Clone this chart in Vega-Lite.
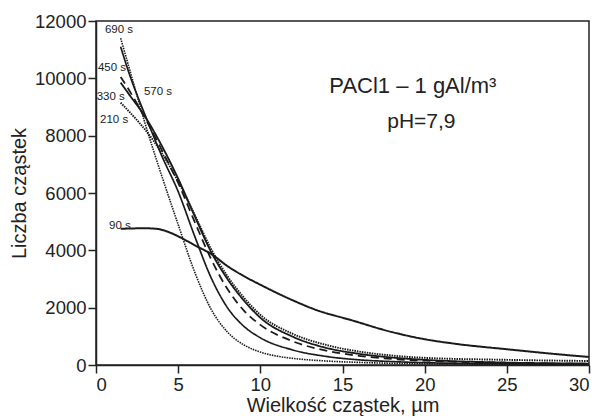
{
  "$schema": "https://vega.github.io/schema/vega-lite/v6.json",
  "autosize": "none",
  "width": 493,
  "height": 344,
  "padding": {"left": 96, "top": 21, "right": 22, "bottom": 53},
  "background": "white",
  "config": {
    "font": "Liberation Sans",
    "view": {"stroke": "#222", "strokeWidth": 1.5},
    "axis": {"grid": false, "domainColor": "#222", "domainWidth": 1.5, "tickColor": "#222", "tickWidth": 1.5, "tickSize": 8, "labelFontSize": 18.5, "labelColor": "#222", "titleFontSize": 20, "titleFontWeight": "normal", "titleColor": "#222", "labelFont": "Liberation Sans", "titleFont": "Liberation Sans"}
  },
  "datasets": {
    "curves": [
      {"series": "690 s", "x": 1.5, "y": 11400}, {"series": "690 s", "x": 2, "y": 10400}, {"series": "690 s", "x": 3, "y": 8400}, {"series": "690 s", "x": 4, "y": 6600}, {"series": "690 s", "x": 5, "y": 4900}, {"series": "690 s", "x": 6, "y": 3250}, {"series": "690 s", "x": 7, "y": 1950}, {"series": "690 s", "x": 8, "y": 1150}, {"series": "690 s", "x": 9, "y": 700}, {"series": "690 s", "x": 10, "y": 450}, {"series": "690 s", "x": 11, "y": 310}, {"series": "690 s", "x": 12, "y": 230}, {"series": "690 s", "x": 14, "y": 140}, {"series": "690 s", "x": 16, "y": 90}, {"series": "690 s", "x": 18, "y": 60}, {"series": "690 s", "x": 20, "y": 45}, {"series": "690 s", "x": 25, "y": 25}, {"series": "690 s", "x": 30, "y": 15},
      {"series": "570 s", "x": 1.5, "y": 11100}, {"series": "570 s", "x": 2, "y": 10200}, {"series": "570 s", "x": 3, "y": 8700}, {"series": "570 s", "x": 4, "y": 7300}, {"series": "570 s", "x": 5, "y": 6050}, {"series": "570 s", "x": 6, "y": 4500}, {"series": "570 s", "x": 7, "y": 3050}, {"series": "570 s", "x": 8, "y": 2000}, {"series": "570 s", "x": 9, "y": 1350}, {"series": "570 s", "x": 10, "y": 950}, {"series": "570 s", "x": 12, "y": 520}, {"series": "570 s", "x": 14, "y": 300}, {"series": "570 s", "x": 16, "y": 180}, {"series": "570 s", "x": 18, "y": 120}, {"series": "570 s", "x": 20, "y": 80}, {"series": "570 s", "x": 25, "y": 40}, {"series": "570 s", "x": 30, "y": 20},
      {"series": "450 s", "x": 1.5, "y": 10050}, {"series": "450 s", "x": 2, "y": 9600}, {"series": "450 s", "x": 3, "y": 8600}, {"series": "450 s", "x": 4, "y": 7500}, {"series": "450 s", "x": 5, "y": 6350}, {"series": "450 s", "x": 6, "y": 5000}, {"series": "450 s", "x": 7, "y": 3700}, {"series": "450 s", "x": 8, "y": 2650}, {"series": "450 s", "x": 9, "y": 1900}, {"series": "450 s", "x": 10, "y": 1400}, {"series": "450 s", "x": 12, "y": 820}, {"series": "450 s", "x": 14, "y": 500}, {"series": "450 s", "x": 16, "y": 320}, {"series": "450 s", "x": 18, "y": 210}, {"series": "450 s", "x": 20, "y": 150}, {"series": "450 s", "x": 25, "y": 75}, {"series": "450 s", "x": 30, "y": 40},
      {"series": "330 s", "x": 1.5, "y": 9850}, {"series": "330 s", "x": 2, "y": 9450}, {"series": "330 s", "x": 3, "y": 8650}, {"series": "330 s", "x": 4, "y": 7650}, {"series": "330 s", "x": 5, "y": 6500}, {"series": "330 s", "x": 6, "y": 5200}, {"series": "330 s", "x": 7, "y": 3950}, {"series": "330 s", "x": 8, "y": 3000}, {"series": "330 s", "x": 9, "y": 2250}, {"series": "330 s", "x": 10, "y": 1650}, {"series": "330 s", "x": 12, "y": 980}, {"series": "330 s", "x": 14, "y": 600}, {"series": "330 s", "x": 16, "y": 390}, {"series": "330 s", "x": 18, "y": 260}, {"series": "330 s", "x": 20, "y": 180}, {"series": "330 s", "x": 25, "y": 85}, {"series": "330 s", "x": 30, "y": 50},
      {"series": "210 s", "x": 1.5, "y": 9150}, {"series": "210 s", "x": 2, "y": 8850}, {"series": "210 s", "x": 3, "y": 8200}, {"series": "210 s", "x": 4, "y": 7400}, {"series": "210 s", "x": 5, "y": 6400}, {"series": "210 s", "x": 6, "y": 5250}, {"series": "210 s", "x": 7, "y": 4050}, {"series": "210 s", "x": 8, "y": 3100}, {"series": "210 s", "x": 9, "y": 2350}, {"series": "210 s", "x": 10, "y": 1750}, {"series": "210 s", "x": 12, "y": 1080}, {"series": "210 s", "x": 14, "y": 700}, {"series": "210 s", "x": 16, "y": 470}, {"series": "210 s", "x": 18, "y": 330}, {"series": "210 s", "x": 20, "y": 250}, {"series": "210 s", "x": 25, "y": 180}, {"series": "210 s", "x": 30, "y": 140},
      {"series": "90 s", "x": 1.5, "y": 4750}, {"series": "90 s", "x": 2, "y": 4760}, {"series": "90 s", "x": 3, "y": 4770}, {"series": "90 s", "x": 3.7, "y": 4750}, {"series": "90 s", "x": 4.5, "y": 4620}, {"series": "90 s", "x": 5.3, "y": 4400}, {"series": "90 s", "x": 6, "y": 4180}, {"series": "90 s", "x": 7.1, "y": 3840}, {"series": "90 s", "x": 8, "y": 3450}, {"series": "90 s", "x": 9, "y": 3100}, {"series": "90 s", "x": 10, "y": 2800}, {"series": "90 s", "x": 12, "y": 2250}, {"series": "90 s", "x": 13.4, "y": 1920}, {"series": "90 s", "x": 15.5, "y": 1570}, {"series": "90 s", "x": 18, "y": 1150}, {"series": "90 s", "x": 20, "y": 900}, {"series": "90 s", "x": 22, "y": 730}, {"series": "90 s", "x": 25, "y": 550}, {"series": "90 s", "x": 28, "y": 380}, {"series": "90 s", "x": 30, "y": 280}
    ],
    "labels": [
      {"text": "690 s", "x": 1.4, "y": 11690},
      {"text": "450 s", "x": 0.97, "y": 10370},
      {"text": "570 s", "x": 3.77, "y": 9530},
      {"text": "330 s", "x": 0.9, "y": 9350},
      {"text": "210 s", "x": 1.1, "y": 8550},
      {"text": "90 s", "x": 1.46, "y": 4850}
    ]
  },
  "layer": [
    {
      "data": {"name": "curves"},
      "mark": {"type": "line", "interpolate": "monotone", "color": "#1a1a1a", "clip": true},
      "encoding": {
        "x": {"field": "x", "type": "quantitative", "scale": {"domain": [0, 30], "nice": false}, "axis": {"values": [0, 5, 10, 15, 20, 25, 30], "format": "d", "title": "Wielkość cząstek, µm", "titlePadding": 2, "labelPadding": 2}},
        "y": {"field": "y", "type": "quantitative", "scale": {"domain": [0, 12000], "nice": false}, "axis": {"values": [0, 2000, 4000, 6000, 8000, 10000, 12000], "format": "d", "title": "Liczba cząstek", "titlePadding": 5, "labelPadding": 2}},
        "detail": {"field": "series"},
        "strokeDash": {"field": "series", "type": "nominal", "scale": {"domain": ["90 s", "210 s", "330 s", "450 s", "570 s", "690 s"], "range": [[1, 0], [1.5, 1], [1, 0], [8, 5], [1, 0], [1.5, 1]]}, "legend": null},
        "strokeWidth": {"field": "series", "type": "nominal", "scale": {"domain": ["90 s", "210 s", "330 s", "450 s", "570 s", "690 s"], "range": [2, 1.6, 1.8, 1.8, 1.8, 1.6]}, "legend": null}
      }
    },
    {
      "data": {"name": "labels"},
      "mark": {"type": "text", "fontSize": 11.5, "color": "#222", "align": "center", "baseline": "middle"},
      "encoding": {
        "x": {"field": "x", "type": "quantitative"},
        "y": {"field": "y", "type": "quantitative"},
        "text": {"field": "text"}
      }
    },
    {
      "data": {"values": [{"text": "PACl1 – 1 gAl/m³", "x": 14.2, "y": 9494}]},
      "mark": {"type": "text", "fontSize": 22, "color": "#222", "align": "left", "baseline": "alphabetic"},
      "encoding": {
        "x": {"field": "x", "type": "quantitative"},
        "y": {"field": "y", "type": "quantitative"},
        "text": {"field": "text"}
      }
    },
    {
      "data": {"values": [{"text": "pH=7,9", "x": 19.8, "y": 8272}]},
      "mark": {"type": "text", "fontSize": 21, "color": "#222", "align": "center", "baseline": "alphabetic"},
      "encoding": {
        "x": {"field": "x", "type": "quantitative"},
        "y": {"field": "y", "type": "quantitative"},
        "text": {"field": "text"}
      }
    }
  ]
}
